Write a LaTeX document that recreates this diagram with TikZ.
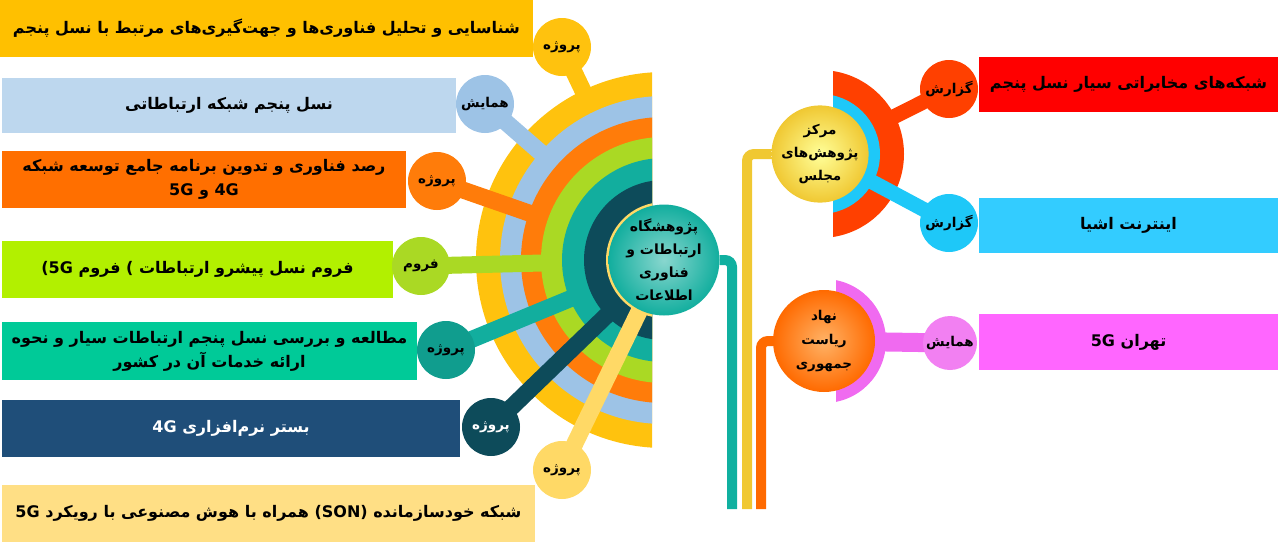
\documentclass[tikz,border=0pt]{standalone}
\usepackage{fontspec}
\newfontfamily\fafont[Script=Arabic]{DejaVu Sans}
\TeXXeTstate=1
\newcommand{\fa}[1]{\beginR #1\endR}

\definecolor{boxyellow}{HTML}{FFC000}
\definecolor{boxblue}{HTML}{BDD7EE}
\definecolor{boxorange}{HTML}{FF6F00}
\definecolor{boxlime}{HTML}{B2F000}
\definecolor{boxteal}{HTML}{00CA98}
\definecolor{boxnavy}{HTML}{1F4E79}
\definecolor{boxcream}{HTML}{FFDF85}
\definecolor{boxred}{HTML}{FF0000}
\definecolor{boxcyan}{HTML}{33CCFF}
\definecolor{boxmagenta}{HTML}{FF66FF}
\definecolor{ringyellow}{HTML}{FFC20E}
\definecolor{ringblue}{HTML}{9DC3E6}
\definecolor{ringorange}{HTML}{FF7C0A}
\definecolor{ringlime}{HTML}{AAD924}
\definecolor{ringteal}{HTML}{12AE9E}
\definecolor{ringdark}{HTML}{0D4B5A}
\definecolor{ringcream}{HTML}{FFD966}
\definecolor{ringred}{HTML}{FF4000}
\definecolor{ringcyan}{HTML}{1EC8F8}
\definecolor{ringmagenta}{HTML}{F06AF0}
\definecolor{lineteal}{HTML}{10B0A0}
\definecolor{lineyellow}{HTML}{F0C832}
\definecolor{lineorange}{HTML}{FF6A00}

\tikzset{
  txtbox/.style={rectangle, inner sep=0pt, align=center,
    font=\fafont\bfseries\fontsize{16}{24}\selectfont},
  lbl/.style={circle, minimum size=58pt, inner sep=0pt,
    font=\fafont\bfseries\fontsize{13.5}{15}\selectfont},
  hub/.style={circle, inner sep=0pt, align=center, shade, shading=radial,
    font=\fafont\bfseries\fontsize{14}{23}\selectfont},
  spoke/.style={line width=17pt},
  vline/.style={line width=10pt, rounded corners=7pt}
}

\begin{document}
\begin{tikzpicture}[x=1pt,y=-1pt]
\useasboundingbox (0,0) rectangle (1280,542);

\node[txtbox, fill=boxyellow, minimum width=533pt, minimum height=57pt] (b1) at (266.5,28.5)
  {\fa{شناسایی و تحلیل فناوری‌ها و جهت‌گیری‌های مرتبط با نسل پنجم}};
\node[txtbox, fill=boxblue, minimum width=454pt, minimum height=55pt] (b2) at (229,105.5)
  {\fa{نسل پنجم شبکه ارتباطاتی}};
\node[txtbox, fill=boxorange, minimum width=404pt, minimum height=57pt] (b3) at (204,179.5)
  {\fa{رصد فناوری و تدوین برنامه جامع توسعه شبکه}\\\fa{4G و 5G}};
\node[txtbox, fill=boxlime, minimum width=391pt, minimum height=57pt] (b4) at (197.5,269.5)
  {\fa{فروم نسل پیشرو ارتباطات ) فروم (5G}};
\node[txtbox, fill=boxteal, minimum width=415pt, minimum height=58pt] (b5) at (209.5,351)
  {\fa{مطالعه و بررسی نسل پنجم ارتباطات سیار و نحوه}\\\fa{ارائه خدمات آن در کشور}};
\node[txtbox, fill=boxnavy, text=white, minimum width=458pt, minimum height=57pt] (b6) at (231,428.5)
  {\fa{بستر نرم‌افزاری 4G}};
\node[txtbox, fill=boxcream, minimum width=533pt, minimum height=57pt] (b7) at (268.5,513.5)
  {\fa{شبکه خودسازمانده (SON) همراه با هوش مصنوعی با رویکرد 5G}};

\node[txtbox, fill=boxred, minimum width=299pt, minimum height=55pt] (r1) at (1128.5,84.5)
  {\fa{شبکه‌های مخابراتی سیار نسل پنجم}};
\node[txtbox, fill=boxcyan, minimum width=299pt, minimum height=55pt] (r2) at (1128.5,225.5)
  {\fa{اینترنت اشیا}};
\node[txtbox, fill=boxmagenta, minimum width=299pt, minimum height=56pt] (r3) at (1128.5,342)
  {\fa{تهران 5G}};

\coordinate (fan) at (664,260);
\coordinate (p1) at (562,47);
\coordinate (p2) at (485,104);
\coordinate (p3) at (437,181);
\coordinate (p4) at (421,266);
\coordinate (p5) at (446,350);
\coordinate (p6) at (491,427);
\coordinate (p7) at (562,470);

\begin{scope}
  \clip (0,0) rectangle (652,542);
  \foreach \r/\c/\p in {188/ringyellow/p1, 164/ringblue/p2, 143/ringorange/p3,
      123/ringlime/p4, 102/ringteal/p5, 80/ringdark/p6, 58/ringcream/p7} {
    \fill[\c] (fan) circle (\r);
    \draw[spoke, \c] (\p) -- (fan);
  }
\end{scope}

\node[lbl, fill=ringyellow] (l1) at (p1) {\fa{پروژه}};
\node[lbl, fill=ringblue] (l2) at (p2) {\fa{همایش}};
\node[lbl, fill=ringorange] (l3) at (p3) {\fa{پروژه}};
\node[lbl, fill=ringlime] (l4) at (p4) {\fa{فروم}};
\node[lbl, fill=ringteal!90!black] (l5) at (p5) {\fa{پروژه}};
\node[lbl, fill=ringdark, text=white] (l6) at (p6) {\fa{پروژه}};
\node[lbl, fill=ringcream] (l7) at (p7) {\fa{پروژه}};

\node[hub, minimum size=102pt, inner color=ringteal!50!white, outer color=ringteal] (ctr) at (fan)
  {\fa{پژوهشگاه}\\\fa{ارتباطات و}\\\fa{فناوری}\\\fa{اطلاعات}};

\coordinate (mj) at (820,154);
\coordinate (q1) at (949,89);
\coordinate (q2) at (949,223);
\begin{scope}
  \clip (833,0) rectangle (1280,542);
  \fill[ringred] (mj) circle (84);
  \draw[line width=15pt, ringred] (mj) -- (q1);
  \fill[ringcyan] (mj) circle (60);
  \draw[line width=15pt, ringcyan] (mj) -- (q2);
\end{scope}
\node[lbl, fill=ringred] (g1) at (q1) {\fa{گزارش}};
\node[lbl, fill=ringcyan] (g2) at (q2) {\fa{گزارش}};
\node[hub, minimum size=96pt, font=\fafont\bfseries\fontsize{13.5}{23}\selectfont,
  inner color=yellow!40!white, outer color=lineyellow] (mjc) at (mj)
  {\fa{مرکز}\\\fa{پژوهش‌های}\\\fa{مجلس}};

\coordinate (nh) at (824,341);
\coordinate (q3) at (950,343);
\begin{scope}
  \clip (836,0) rectangle (1280,542);
  \fill[ringmagenta] (nh) circle (62);
  \draw[line width=19pt, ringmagenta] (nh) -- (q3);
\end{scope}
\node[lbl, minimum size=54pt, fill=ringmagenta!85!white] (h1) at (q3) {\fa{همایش}};
\node[hub, minimum size=102pt, font=\fafont\bfseries\fontsize{13.5}{24}\selectfont,
  inner color=orange!60!white, outer color=lineorange] (nhc) at (nh)
  {\fa{نهاد}\\\fa{ریاست}\\\fa{جمهوری}};

\coordinate (e1) at (732,509);
\coordinate (e2) at (747,509);
\coordinate (e3) at (761,509);
\draw[vline, lineteal] (ctr.east) -| (e1);
\draw[vline, lineyellow] (mjc.west) -| (e2);
\draw[vline, lineorange] (nhc.west) -| (e3);
\end{tikzpicture}
\end{document}
